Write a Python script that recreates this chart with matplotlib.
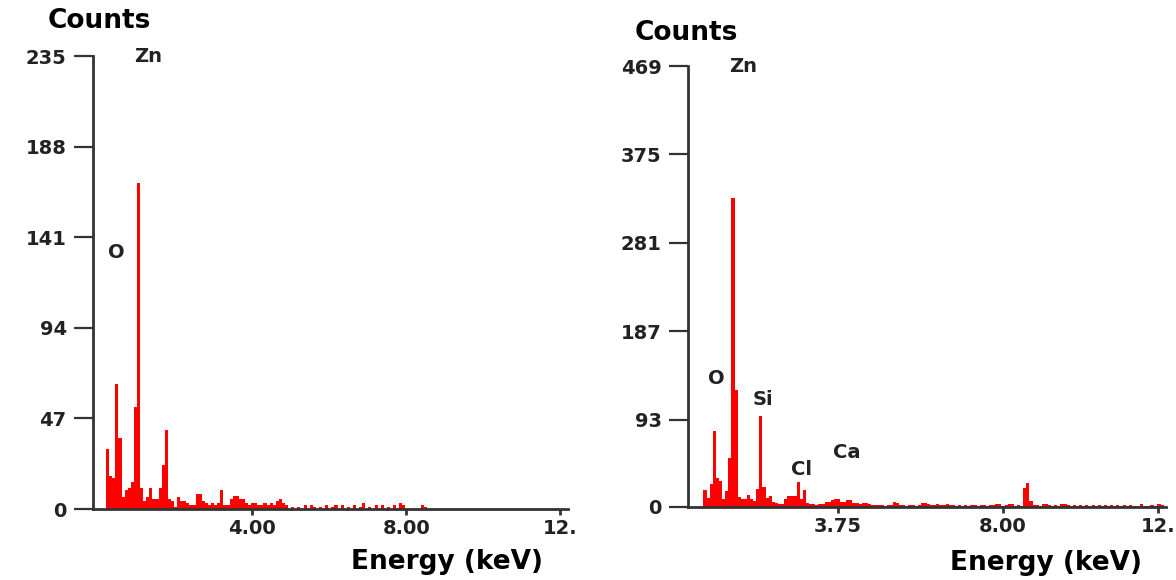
import numpy as np
import matplotlib.pyplot as plt

# EDS spectrum, left sample (energy = left edge of channel, keV)
left_energy = [0.22, 0.30, 0.38, 0.46, 0.54, 0.62, 0.70, 0.78, 0.86, 0.94,
               1.02, 1.10, 1.18, 1.26, 1.34, 1.42, 1.50, 1.58, 1.66, 1.74,
               1.82, 1.90, 1.98, 2.06, 2.14, 2.22, 2.30, 2.38, 2.46, 2.54,
               2.62, 2.70, 2.78, 2.86, 2.94, 3.02, 3.10, 3.18, 3.26, 3.34,
               3.42, 3.50, 3.58, 3.66, 3.74, 3.82, 3.90, 3.98, 4.06, 4.14,
               4.22, 4.30, 4.38, 4.46, 4.54, 4.62, 4.70, 4.78, 4.86,
               5.02, 5.18, 5.34, 5.50, 5.58, 5.74, 5.90, 6.06, 6.14, 6.30,
               6.46, 6.62, 6.78, 6.86, 7.02, 7.18, 7.34, 7.50, 7.66, 7.82,
               7.90, 8.38, 8.46]
left_counts = [31, 17, 16, 65, 37, 6, 10, 11, 14, 53,
               169, 11, 4, 6, 11, 5, 5, 11, 23, 41,
               5, 4, 1, 6, 4, 4, 3, 2, 2, 8,
               8, 4, 3, 2, 3, 2, 3, 10, 2, 2,
               5, 7, 7, 5, 5, 3, 2, 3, 3, 2,
               2, 3, 2, 3, 2, 4, 5, 3, 2,
               1, 1, 2, 2, 1, 1, 2, 1, 2, 2,
               1, 2, 1, 3, 1, 2, 2, 1, 2, 3,
               2, 2, 1]

# EDS spectrum, right sample
right_energy = [0.28, 0.36, 0.44, 0.52, 0.60, 0.68, 0.76, 0.84, 0.92, 1.00,
                1.08, 1.16, 1.24, 1.32, 1.40, 1.48, 1.56, 1.64, 1.72, 1.80,
                1.88, 1.96, 2.04, 2.12, 2.20, 2.28, 2.36, 2.44, 2.52, 2.60,
                2.68, 2.76, 2.84, 2.92, 3.00, 3.08, 3.16, 3.24, 3.32, 3.40,
                3.48, 3.56, 3.64, 3.72, 3.80, 3.88, 3.96, 4.04, 4.12, 4.20,
                4.28, 4.36, 4.44, 4.52, 4.60, 4.68, 4.76, 4.84, 4.92, 5.00,
                5.08, 5.16, 5.24, 5.32, 5.40, 5.48, 5.56, 5.64, 5.72, 5.80,
                5.88, 5.96, 6.04, 6.12, 6.20, 6.28, 6.36, 6.44, 6.52, 6.60,
                6.68, 6.76, 6.84, 6.92, 7.00, 7.08, 7.16, 7.24, 7.32, 7.40,
                7.48, 7.56, 7.64, 7.72, 7.80, 7.88, 7.96, 8.04, 8.12, 8.20,
                8.28, 8.36, 8.44, 8.52, 8.60, 8.68, 8.76, 8.84, 8.92, 9.00,
                9.08, 9.16, 9.24, 9.32, 9.40, 9.48, 9.56, 9.64, 9.72, 9.80,
                9.88, 9.96, 10.04, 10.12, 10.20, 10.28, 10.36, 10.44, 10.52, 10.60,
                10.68, 10.76, 10.84, 10.92, 11.00, 11.08, 11.16, 11.24, 11.32, 11.40,
                11.52, 11.60, 11.70, 11.80, 11.90, 11.98, 12.06]
right_counts = [18, 10, 24, 81, 31, 28, 9, 17, 52, 329,
                124, 11, 8, 8, 13, 9, 6, 19, 97, 21,
                10, 12, 5, 4, 3, 3, 8, 12, 12, 12,
                27, 8, 18, 4, 3, 3, 2, 3, 3, 5,
                5, 7, 8, 8, 5, 5, 7, 7, 4, 4,
                3, 4, 4, 3, 2, 2, 2, 2, 1, 2,
                2, 5, 4, 2, 2, 1, 2, 2, 1, 2,
                4, 4, 3, 2, 2, 3, 2, 2, 3, 2,
                2, 1, 2, 1, 2, 1, 2, 2, 1, 2,
                2, 1, 2, 2, 3, 3, 1, 2, 3, 3,
                1, 2, 1, 20, 25, 6, 2, 2, 1, 3,
                3, 2, 1, 2, 1, 3, 3, 2, 1, 2,
                1, 2, 1, 2, 1, 2, 1, 2, 1, 2,
                1, 2, 1, 2, 1, 2, 1, 2, 1, 1,
                3, 1, 1, 2, 1, 3, 2]

left_yticks = [0, 47, 94, 141, 188, 235]
right_yticks = [0, 93, 187, 281, 375, 469]
left_xticks = [4.0, 8.0, 12.0]
left_xlabels = ['4.00', '8.00', '12.']
right_xticks = [3.75, 8.0, 12.0]
right_xlabels = ['3.75', '8.00', '12.']

left_peaks = [('Zn', 1.30, 235), ('O', 0.49, 133)]
right_peaks = [('Zn', 1.30, 469), ('O', 0.61, 137), ('Si', 1.82, 114),
               ('Cl', 2.80, 40), ('Ca', 3.98, 58)]

axis_col = '#333333'

fig = plt.figure(figsize=(11.76, 5.8), dpi=100)
ax1 = fig.add_axes([0.0791, 0.1224, 0.404, 0.781])
ax2 = fig.add_axes([0.585, 0.1259, 0.4065, 0.7603])


def draw_panel(ax, energy, counts, yticks, xticks, xlabels, peaks):
    ax.bar(energy, counts, width=0.08, align='edge', color='#ff0000',
           linewidth=0)
    ax.set_xlim(-0.12, 12.2)
    ax.set_ylim(0, yticks[-1])
    for s in ['top', 'right']:
        ax.spines[s].set_visible(False)
    for s in ['left', 'bottom']:
        ax.spines[s].set_color(axis_col)
        ax.spines[s].set_linewidth(2.0)
    ax.set_yticks(yticks)
    ax.set_yticklabels([str(t) for t in yticks])
    ax.set_xticks(xticks)
    ax.set_xticklabels(xlabels)
    ax.tick_params(axis='y', direction='out', length=14, width=1.6,
                   color=axis_col, pad=5, labelsize=14, labelcolor='#222222')
    ax.tick_params(axis='x', direction='out', length=4, width=2.0,
                   color=axis_col, pad=3, labelsize=14, labelcolor='#222222')
    for lab in ax.get_yticklabels() + ax.get_xticklabels():
        lab.set_fontweight('bold')
    for name, x, y in peaks:
        ax.text(x, y, name, ha='center', va='center', fontsize=14,
                fontweight='bold', color='#222222', clip_on=False)


draw_panel(ax1, left_energy, left_counts, left_yticks, left_xticks,
           left_xlabels, left_peaks)
draw_panel(ax2, right_energy, right_counts, right_yticks, right_xticks,
           right_xlabels, right_peaks)

# axis titles
fig.text(99 / 1176, 1 - 21 / 580, 'Counts', ha='center', va='center',
         fontsize=19, fontweight='bold', color='black')
fig.text(686 / 1176, 1 - 33 / 580, 'Counts', ha='center', va='center',
         fontsize=19, fontweight='bold', color='black')
fig.text(447 / 1176, 1 - 562 / 580, 'Energy (keV)', ha='center', va='center',
         fontsize=19, fontweight='bold', color='black')
fig.text(1046 / 1176, 1 - 563 / 580, 'Energy (keV)', ha='center', va='center',
         fontsize=19, fontweight='bold', color='black')

fig.savefig('out.png', dpi=100)
